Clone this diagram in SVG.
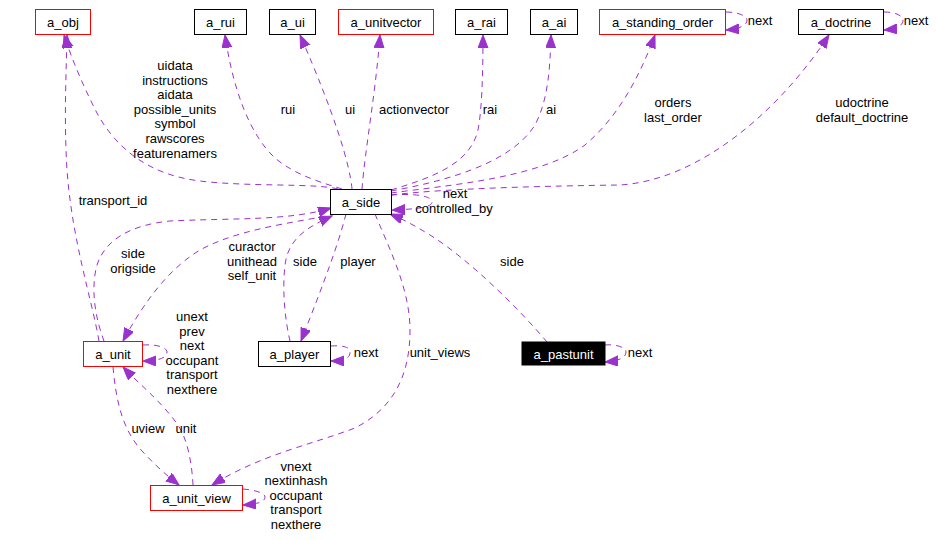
<svg xmlns="http://www.w3.org/2000/svg" width="937" height="540" viewBox="0 0 937 540">
<style>
text{font-family:"Liberation Sans",Arial,Helvetica,sans-serif;font-size:13px;fill:#000}
.n rect{fill:#fff;stroke:#000;stroke-width:1}
.n.r rect{stroke:#ff0000}
.n text{text-anchor:middle}
.e path{fill:none;stroke:#9a32cd;stroke-width:1;stroke-dasharray:6,5;marker-end:url(#ah)}
.l text{text-anchor:middle}
</style>
<defs>
<marker id="ah" markerWidth="14" markerHeight="11" refX="13" refY="5" orient="auto" markerUnits="userSpaceOnUse">
<path d="M0,0 L13,5 L0,10 z" fill="#9a32cd" stroke="#9a32cd" stroke-width="1"/>
</marker>
</defs>
<rect width="937" height="540" fill="#fff"/>
<g id="edges" class="e">
<path d="M338,189 C315,183 250,187 200,181 C150,175 118,150 98,115 C85,90 72,60 64,35"/>
<path d="M99,341 C92,300 72,240 67,170 C64,120 66,80 67,35"/>
<path d="M104,341 C96,320 90,290 97,265 C105,240 130,225 170,221 C230,218 290,221 331,208"/>
<path d="M336,214 C300,222 240,228 200,250 C170,268 145,300 123,341"/>
<path d="M290,341 C285,320 282,290 285,265 C288,240 305,228 332,216"/>
<path d="M346,214 C338,245 325,280 301,341"/>
<path d="M375,214 C390,250 410,290 410,330 C410,380 390,410 355,428 C310,445 260,455 212,485"/>
<path d="M547,342 C520,310 470,260 430,235 C415,226 405,220 390,214"/>
<path d="M391,195 C420,193 432,197 432,202 C432,207 420,209 392,210"/>
<path d="M331,346 C345,345 350,348 350,352 C350,358 345,361 331,361"/>
<path d="M143,345 C155,344 167,347 167,352 C167,358 158,361 143,361"/>
<path d="M243,489 C255,490 265,493 265,497 C265,502 258,504 243,505"/>
<path d="M605,345 C615,344 626,347 626,352 C626,358 618,361 605,362"/>
<path d="M726,12 C738,12 747,16 747,20 C747,26 738,29 726,30"/>
<path d="M884,12 C896,12 903,16 903,20 C903,26 896,29 884,30"/>
<path d="M113,367 C116,400 122,430 143,452 C155,465 165,474 179,485"/>
<path d="M193,485 C192,465 188,440 178,425 C160,400 140,385 123,367"/>
<path d="M342,189 C320,182 295,175 275,158 C250,135 233,90 225,35"/>
<path d="M352,189 C350,165 335,115 300,35"/>
<path d="M362,189 C365,150 376,90 380,35"/>
<path d="M391,190 C430,178 470,165 478,130 C482,110 483,70 483,35"/>
<path d="M391,191 C440,182 510,165 535,125 C548,100 550,70 551,35"/>
<path d="M391,193 C450,185 540,178 585,145 C620,115 640,75 655,35"/>
<path d="M391,195 C450,188 550,186 620,185 C700,180 780,110 829,35"/>
</g>
<g id="labels" class="l">
<text x="175" y="70">uidata</text>
<text x="175" y="85">instructions</text>
<text x="175" y="99">aidata</text>
<text x="175" y="114">possible_units</text>
<text x="175" y="128">symbol</text>
<text x="175" y="143">rawscores</text>
<text x="175" y="158">featurenamers</text>
<text x="288" y="114">rui</text>
<text x="350" y="114">ui</text>
<text x="414" y="114">actionvector</text>
<text x="490" y="114">rai</text>
<text x="551" y="114">ai</text>
<text x="673" y="107">orders</text>
<text x="673" y="122">last_order</text>
<text x="862" y="107">udoctrine</text>
<text x="862" y="122">default_doctrine</text>
<text x="760" y="25">next</text>
<text x="916" y="25">next</text>
<text x="113" y="205">transport_id</text>
<text x="133" y="258">side</text>
<text x="133" y="273">origside</text>
<text x="252" y="251">curactor</text>
<text x="252" y="266">unithead</text>
<text x="252" y="280">self_unit</text>
<text x="305" y="266">side</text>
<text x="358" y="266">player</text>
<text x="512" y="266">side</text>
<text x="455" y="198">next</text>
<text x="454" y="213">controlled_by</text>
<text x="192" y="321">unext</text>
<text x="192" y="336">prev</text>
<text x="192" y="350">next</text>
<text x="192" y="365">occupant</text>
<text x="192" y="379">transport</text>
<text x="192" y="394">nexthere</text>
<text x="366" y="357">next</text>
<text x="440" y="357">unit_views</text>
<text x="640" y="357">next</text>
<text x="148" y="433">uview</text>
<text x="186" y="433">unit</text>
<text x="296" y="471">vnext</text>
<text x="296" y="485">nextinhash</text>
<text x="296" y="500">occupant</text>
<text x="296" y="514">transport</text>
<text x="296" y="529">nexthere</text>
</g>
<g id="a_obj" class="n r"><rect x="35.5" y="9.5" width="55" height="25"/><text x="63" y="26.5">a_obj</text></g>
<g id="a_rui" class="n"><rect x="194.5" y="9.5" width="52" height="25"/><text x="220.5" y="26.5">a_rui</text></g>
<g id="a_ui" class="n"><rect x="269.5" y="9.5" width="46" height="25"/><text x="292.5" y="26.5">a_ui</text></g>
<g id="a_unitvector" class="n r"><rect x="338.5" y="9.5" width="95" height="25"/><text x="386" y="26.5">a_unitvector</text></g>
<g id="a_rai" class="n"><rect x="455.5" y="9.5" width="52" height="25"/><text x="481.5" y="26.5">a_rai</text></g>
<g id="a_ai" class="n"><rect x="530.5" y="9.5" width="47" height="25"/><text x="554" y="26.5">a_ai</text></g>
<g id="a_standing_order" class="n r"><rect x="599.5" y="9.5" width="126" height="25"/><text x="662.5" y="26.5">a_standing_order</text></g>
<g id="a_doctrine" class="n"><rect x="798.5" y="9.5" width="85" height="25"/><text x="841" y="26.5">a_doctrine</text></g>
<g id="a_side" class="n"><rect x="330.5" y="189.5" width="61" height="25"/><text x="361" y="206.5">a_side</text></g>
<g id="a_unit" class="n r"><rect x="83.5" y="341.5" width="59" height="25"/><text x="113" y="358.5">a_unit</text></g>
<g id="a_player" class="n"><rect x="258.5" y="341.5" width="72" height="25"/><text x="294.5" y="358.5">a_player</text></g>
<g id="a_pastunit" class="n"><rect x="522" y="342" width="83" height="23" style="fill:#000;stroke:#000"/><text x="563.5" y="358.5" style="fill:#fff">a_pastunit</text></g>
<g id="a_unit_view" class="n r"><rect x="150.5" y="485.5" width="92" height="25"/><text x="196.5" y="502.5">a_unit_view</text></g>
</svg>
